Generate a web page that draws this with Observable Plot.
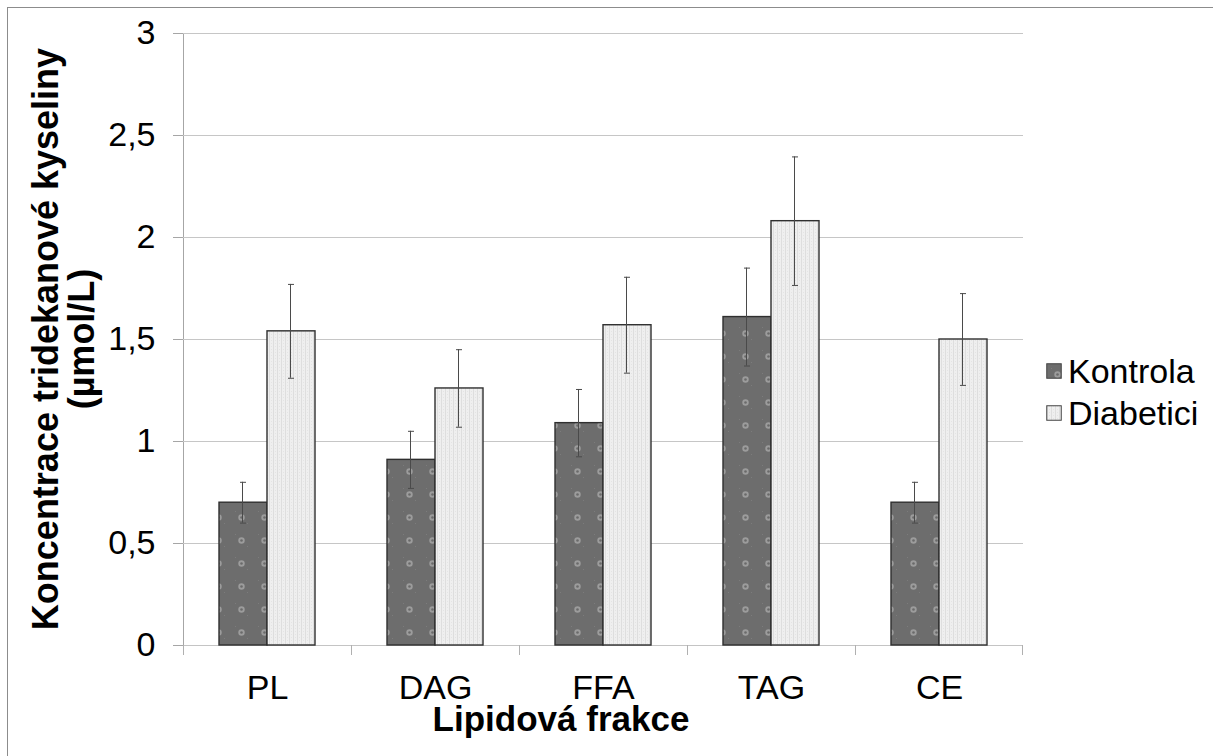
<!DOCTYPE html>
<html>
<head>
<meta charset="utf-8">
<script src="https://cdn.jsdelivr.net/npm/d3@7"></script>
<script src="https://cdn.jsdelivr.net/npm/@observablehq/plot@0.6"></script>
<style>
  html, body { margin: 0; padding: 0; background: #fff; }
  #wrap { position: relative; width: 1213px; height: 756px; overflow: hidden; font-family: "Liberation Sans", Arial, sans-serif; color: #000; }
  #border { position: absolute; left: 7px; top: 7px; width: 1300px; height: 900px; border-left: 1.5px solid #8c8c8c; border-top: 1.5px solid #8c8c8c; }
  #chart { position: absolute; left: 0; top: 0; }
  #ytitle { position: absolute; width: 700px; height: 72px; left: -286.5px; top: 303px; transform: rotate(-90deg); transform-origin: 50% 50%;
            font-weight: bold; font-size: 36px; line-height: 36px; text-align: center; white-space: nowrap; }
  #xtitle { position: absolute; left: 261px; width: 600px; top: 701px; font-weight: bold; font-size: 35px; line-height: 35px; text-align: center; white-space: nowrap; }
  #legend { position: absolute; left: 1046px; top: 350px; font-size: 34px; line-height: 42px; }
  #legend .item { display: flex; align-items: center; height: 42px; }
  #legend svg { margin-right: 6px; }
</style>
</head>
<body>
<div id="wrap">
  <div id="border"></div>
  <div id="chart"></div>
  <div id="ytitle"></div>
  <div id="xtitle"></div>
  <div id="legend"></div>
</div>
<script>
// ---- data ----
const categories = ["PL", "DAG", "FFA", "TAG", "CE"];
const series = ["Kontrola", "Diabetici"];
const kontrola = [0.70, 0.91, 1.09, 1.61, 0.70];
const kontrolaErr = [0.10, 0.14, 0.165, 0.24, 0.10];
const diabetici = [1.54, 1.26, 1.57, 2.08, 1.50];
const diabeticiErr = [0.23, 0.19, 0.235, 0.315, 0.225];
const yTicks = [0, 0.5, 1, 1.5, 2, 2.5, 3];
const xTitle = "Lipidová frakce";
const yTitle = ["Koncentrace tridekanové kyseliny", "(µmol/L)"];

const data = categories.flatMap((c, i) => [
  {cat: c, s: series[0], v: kontrola[i], e: kontrolaErr[i]},
  {cat: c, s: series[1], v: diabetici[i], e: diabeticiErr[i]}
]);

const chart = Plot.plot({
  width: 1213,
  height: 756,
  marginLeft: 183,
  marginRight: 190,
  marginTop: 33,
  marginBottom: 111,
  style: {fontFamily: "Liberation Sans, Arial, sans-serif", fontSize: "34px", background: "transparent", color: "#a6a6a6", overflow: "visible"},
  fx: {domain: categories, padding: 0, axis: "bottom", tickSize: 0, tickPadding: 29, label: null},
  x: {domain: series, paddingInner: 0, paddingOuter: 0.75, axis: null},
  y: {domain: [0, 3], ticks: yTicks, tickSize: 10, tickPadding: 18, tickFormat: d => String(d).replace(".", ","), line: true, grid: false, label: null},
  color: {domain: series, range: ["url(#pK)", "url(#pD)"]},
  marks: [
    Plot.gridY(yTicks, {stroke: "#c6c6c6", strokeOpacity: 1, strokeWidth: 1}),
    Plot.ruleY([0], {stroke: "#c4c4c4"}),
    // category boundary ticks below the axis
    Plot.barY(categories, {fx: d => d, x: () => series[0], y1: 0, y2: 0, insetLeft: -36, insetRight: 83, insetBottom: -10, fill: "#b0b0b0"}),
    Plot.barY(categories.slice(-1), {fx: d => d, x: () => series[1], y1: 0, y2: 0, insetLeft: 83, insetRight: -36, insetBottom: -10, fill: "#b0b0b0"}),
    Plot.barY(data, {fx: "cat", x: "s", y: "v", fill: "s", stroke: "#2f2f2f", strokeWidth: 1.4}),
    // error bars
    Plot.barY(data, {fx: "cat", x: "s", y1: d => d.v - d.e, y2: d => d.v + d.e, insetLeft: 23, insetRight: 24, fill: "#4a4a4a"}),
    Plot.tickY(data, {fx: "cat", x: "s", y: d => d.v + d.e, insetLeft: 21, insetRight: 21, stroke: "#4a4a4a"}),
    Plot.tickY(data, {fx: "cat", x: "s", y: d => d.v - d.e, insetLeft: 21, insetRight: 21, stroke: "#4a4a4a"})
  ]
});

// patterns
const defs = document.createElementNS("http://www.w3.org/2000/svg", "defs");
defs.innerHTML = `
  <pattern id="pK" patternUnits="userSpaceOnUse" width="23" height="23">
    <rect width="23" height="23" fill="#6d6d6d"/>
    <rect x="5" y="5" width="1" height="1" fill="#7c7c7c"/>
    <rect x="17" y="17" width="1" height="1" fill="#7c7c7c"/>
    <circle cx="11.5" cy="11.5" r="3.2" fill="#9c9c9c"/>
    <circle cx="11.5" cy="11.5" r="1.3" fill="#6a6a6a"/>
  </pattern>
  <pattern id="pD" patternUnits="userSpaceOnUse" width="4" height="3">
    <rect width="4" height="3" fill="#efefef"/>
    <rect x="1" y="0" width="1" height="3" fill="#dedede"/>
    <rect x="3" y="1" width="1" height="1" fill="#e4e4e4"/>
  </pattern>`;
chart.insertBefore(defs, chart.firstChild);

document.getElementById("chart").appendChild(chart);

// axis text colour
d3.select(chart).selectAll('g[aria-label$="tick label"]').attr("fill", "#000");

// titles
document.getElementById("xtitle").textContent = xTitle;
document.getElementById("ytitle").innerHTML = yTitle.join("<br>");

// legend
const legend = document.getElementById("legend");
series.forEach((s, i) => {
  const item = document.createElement("div");
  item.className = "item";
  item.innerHTML = `<svg width="16" height="16"><rect x="0.75" y="0.75" width="14.5" height="14.5" fill="${i === 0 ? "url(#pK)" : "url(#pD)"}" stroke="#444" stroke-width="1"/></svg><span>${s}</span>`;
  legend.appendChild(item);
});
</script>
</body>
</html>
